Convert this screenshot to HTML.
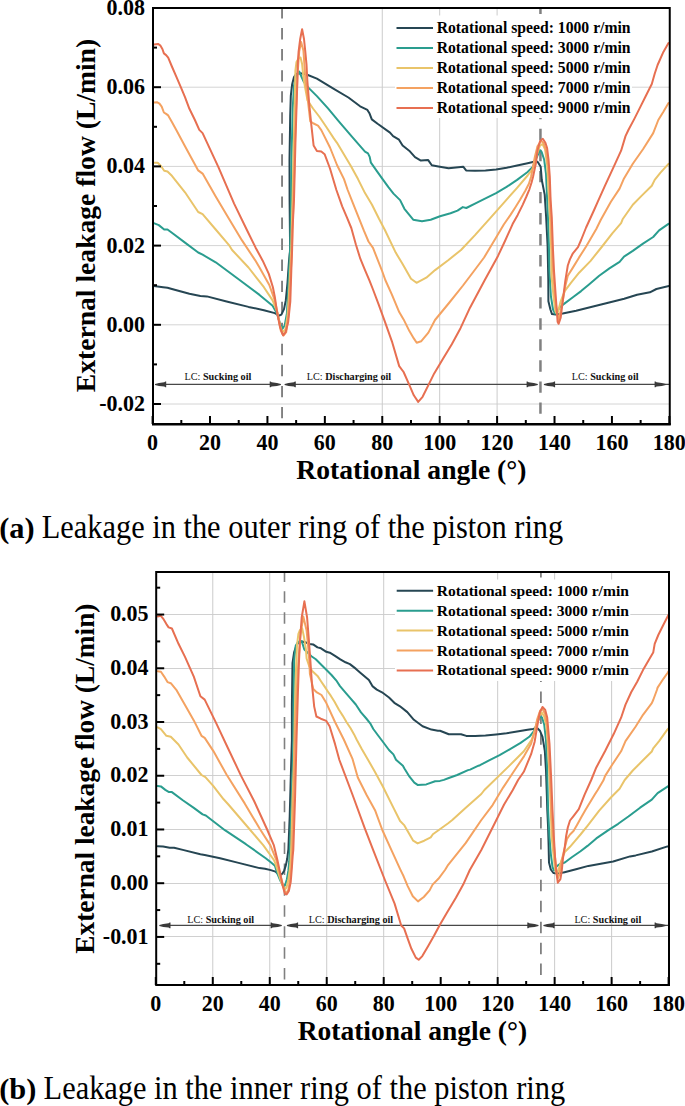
<!DOCTYPE html>
<html><head><meta charset="utf-8"><style>
html,body{margin:0;padding:0;background:#fff;width:685px;height:1106px;overflow:hidden}
svg{display:block}
</style></head><body>
<svg width="685" height="1106" viewBox="0 0 685 1106">
<rect width="685" height="1106" fill="#fff"/>
<line x1="153" y1="87.20" x2="669.75" y2="87.20" stroke="#d4d4d4" stroke-width="1"/>
<line x1="153" y1="166.40" x2="669.75" y2="166.40" stroke="#d4d4d4" stroke-width="1"/>
<line x1="153" y1="245.60" x2="669.75" y2="245.60" stroke="#d4d4d4" stroke-width="1"/>
<line x1="153" y1="324.80" x2="669.75" y2="324.80" stroke="#d4d4d4" stroke-width="1"/>
<line x1="153" y1="404.00" x2="669.75" y2="404.00" stroke="#d4d4d4" stroke-width="1"/>
<line x1="382.27" y1="8" x2="382.27" y2="424" stroke="#cbcbcb" stroke-width="1"/>
<line x1="439.68" y1="8" x2="439.68" y2="424" stroke="#cbcbcb" stroke-width="1"/>
<line x1="497.10" y1="8" x2="497.10" y2="424" stroke="#cbcbcb" stroke-width="1"/>
<line x1="282.05" y1="7" x2="282.05" y2="424" stroke="#808080" stroke-width="1.9" stroke-dasharray="11.4 9.65" stroke-dashoffset="0"/>
<line x1="540.45" y1="7" x2="540.45" y2="424" stroke="#808080" stroke-width="2.5" stroke-dasharray="11.4 9.65" stroke-dashoffset="4.5"/>
<rect x="395" y="15.5" width="237" height="102.5" fill="#fff"/>
<line x1="158.0" y1="384.4" x2="277.9" y2="384.4" stroke="#484848" stroke-width="1.2"/>
<polygon points="155.00,383.90 159.00,382.90 164.30,382.30 165.30,381.50 166.20,381.50 166.20,387.30 165.30,387.30 164.30,386.50 159.00,385.90 155.00,384.90" fill="#3a3a3a"/>
<polygon points="280.90,383.90 276.90,382.90 271.60,382.30 270.60,381.50 269.70,381.50 269.70,387.30 270.60,387.30 271.60,386.50 276.90,385.90 280.90,384.90" fill="#3a3a3a"/>
<line x1="287.6" y1="384.4" x2="534.8" y2="384.4" stroke="#484848" stroke-width="1.2"/>
<polygon points="284.60,383.90 288.60,382.90 293.90,382.30 294.90,381.50 295.80,381.50 295.80,387.30 294.90,387.30 293.90,386.50 288.60,385.90 284.60,384.90" fill="#3a3a3a"/>
<polygon points="537.80,383.90 533.80,382.90 528.50,382.30 527.50,381.50 526.60,381.50 526.60,387.30 527.50,387.30 528.50,386.50 533.80,385.90 537.80,384.90" fill="#3a3a3a"/>
<line x1="546.9" y1="384.4" x2="669.75" y2="384.4" stroke="#484848" stroke-width="1.2"/>
<polygon points="543.90,383.90 547.90,382.90 553.20,382.30 554.20,381.50 555.10,381.50 555.10,387.30 554.20,387.30 553.20,386.50 547.90,385.90 543.90,384.90" fill="#3a3a3a"/>
<polygon points="665.80,383.90 661.80,382.90 656.50,382.30 655.50,381.50 654.60,381.50 654.60,387.30 655.50,387.30 656.50,386.50 661.80,385.90 665.80,384.90" fill="#3a3a3a"/>
<text x="184.5" y="379.8" font-family="Liberation Serif" font-weight="bold" font-size="10.2" fill="#111"><tspan font-weight="normal">LC:</tspan> Sucking oil</text>
<text x="306.8" y="379.8" font-family="Liberation Serif" font-weight="bold" font-size="10.2" fill="#111"><tspan font-weight="normal">LC:</tspan> Discharging oil</text>
<text x="571.8" y="379.8" font-family="Liberation Serif" font-weight="bold" font-size="10.2" fill="#111"><tspan font-weight="normal">LC:</tspan> Sucking oil</text>
<clipPath id="clipA"><rect x="153" y="8" width="516.75" height="416"/></clipPath>
<g clip-path="url(#clipA)" fill="none" stroke-width="2" stroke-linejoin="round" stroke-linecap="round">
<polyline points="153.9,286.1 163.1,287.2 167.5,287.7 171.9,289.0 189.4,293.8 200.4,296.0 206.9,296.4 226.6,301.5 248.5,306.9 263.9,310.2 274.8,313.1 279.2,315.7 281.4,314.6 284.0,309.1 285.8,300.4 287.5,282.8 289.0,261.0 290.1,250.0 289.6,200.0 289.5,160.0 290.2,116.2 290.8,95.9 292.1,84.6 294.0,77.0 295.9,74.4 298.4,73.2 302.2,73.6 306.0,74.2 316.9,78.6 333.8,88.8 348.4,97.5 360.1,106.3 367.4,109.9 369.6,113.6 371.8,119.4 377.6,123.8 390.0,132.6 393.1,136.1 399.0,139.7 402.6,145.5 409.2,150.7 415.0,157.2 420.9,160.6 428.2,160.1 431.8,165.3 438.4,166.4 448.6,168.2 455.9,167.4 463.2,166.7 466.1,170.4 475.0,170.8 485.5,170.6 496.1,169.4 506.6,167.7 517.1,165.6 527.6,163.3 532.9,162.1 535.5,160.7 538.1,162.4 540.7,166.8 541.8,180.0 544.7,194.6 546.1,216.5 547.6,245.7 548.3,280.0 548.4,301.3 550.4,309.5 552.0,314.1 555.5,314.6 562.7,313.6 576.1,310.7 592.1,306.7 608.2,302.7 624.2,298.7 637.1,294.7 649.9,292.3 656.4,289.0 670.0,285.8" stroke="#264653"/>
<polyline points="154.4,223.4 158.8,225.1 164.2,229.5 167.5,229.5 171.9,232.8 185.0,242.6 198.2,252.5 202.6,254.7 215.7,262.3 237.6,278.5 259.5,294.9 272.6,305.8 277.0,313.5 280.3,324.4 282.5,328.8 284.7,325.5 286.9,313.5 288.0,293.8 289.0,271.9 290.1,250.0 291.0,200.0 291.5,159.2 292.7,108.6 294.0,85.8 295.9,75.7 299.2,71.5 301.6,77.0 303.8,81.9 308.1,87.4 316.9,96.1 327.8,108.2 338.8,121.3 351.9,136.6 360.4,146.4 365.0,151.6 368.0,153.4 369.7,156.9 370.9,162.7 376.7,170.9 382.6,179.1 388.4,187.2 393.5,193.6 400.1,200.1 404.4,208.8 413.2,219.7 422.0,221.2 430.7,219.7 440.0,216.2 450.5,213.2 457.5,210.6 462.8,207.1 466.3,208.0 475.0,203.6 485.5,198.3 496.1,193.1 506.6,186.9 517.1,179.9 527.6,172.0 532.9,166.8 536.4,158.0 539.9,150.1 541.6,151.9 544.2,159.8 546.0,173.8 547.2,200.1 548.3,226.4 549.0,250.0 549.4,270.7 550.9,296.2 553.0,309.5 555.0,313.6 557.6,310.5 560.7,306.4 564.7,303.4 572.9,297.2 581.1,291.1 589.0,284.5 599.2,275.7 609.4,268.4 619.6,261.8 624.0,256.7 632.8,250.9 643.0,243.6 653.2,237.0 659.1,230.4 668.5,223.9" stroke="#2a9d8f"/>
<polyline points="154.4,162.7 157.7,162.7 160.9,166.0 164.2,170.8 167.5,171.5 171.9,175.8 185.0,192.3 198.2,212.0 202.6,214.2 215.7,229.5 228.8,244.8 232.1,250.0 248.5,267.5 263.9,287.2 272.6,300.4 277.0,311.3 280.3,326.6 282.5,332.1 285.3,329.9 287.5,315.7 289.0,293.8 290.1,271.9 291.2,250.0 292.5,200.0 293.4,159.2 294.6,108.6 295.4,70.6 296.5,62.0 298.5,58.5 300.5,57.5 302.1,64.0 303.4,77.0 304.9,86.3 307.5,100.4 313.0,108.5 319.2,116.5 326.0,126.5 333.8,138.4 337.0,142.8 344.0,154.5 351.0,166.2 358.0,179.1 365.0,193.1 372.0,204.7 379.0,218.8 384.9,230.0 395.7,252.6 402.3,263.5 411.0,278.8 416.5,282.8 426.3,277.7 435.1,270.1 448.2,260.2 461.0,250.0 475.0,235.1 489.1,219.3 503.1,203.6 517.1,187.8 527.6,175.5 532.9,168.5 536.4,156.3 539.9,145.8 542.5,144.0 545.1,149.3 547.2,165.0 548.6,191.3 550.0,217.6 551.2,250.0 551.5,275.8 553.5,296.2 555.5,311.5 557.1,314.6 558.6,309.5 560.7,301.3 564.7,291.1 570.9,282.9 579.1,272.7 590.4,261.1 602.1,246.5 612.3,233.4 621.1,223.1 622.6,219.3 632.8,204.7 641.5,195.9 651.8,185.7 654.7,179.9 660.5,172.6 668.5,163.8" stroke="#e9c46a"/>
<polyline points="154.1,102.6 157.3,102.3 159.5,103.7 161.7,106.6 163.9,112.5 166.1,113.9 168.2,115.4 171.9,122.0 176.3,130.0 185.0,146.3 198.2,170.4 202.6,173.6 215.7,196.6 228.8,218.5 242.0,240.4 255.1,260.1 259.5,267.5 269.3,285.0 274.8,300.4 278.1,315.7 280.9,331.0 283.6,335.4 286.2,332.1 288.4,315.7 289.7,293.8 290.8,271.9 291.9,250.0 293.5,200.0 294.5,160.0 296.0,110.0 297.5,75.0 299.2,51.6 301.1,42.0 303.4,50.4 305.3,77.0 307.0,92.8 310.3,121.3 313.6,123.5 318.0,125.7 321.3,130.1 330.0,147.5 337.0,165.0 344.0,179.1 347.7,190.0 353.1,203.6 358.5,217.1 363.9,230.7 368.5,241.5 373.0,247.9 382.3,271.5 385.3,280.0 391.9,294.6 399.2,312.1 403.6,319.4 409.4,331.1 413.8,338.4 416.7,342.8 421.1,341.3 428.4,332.6 435.0,320.0 449.0,303.0 463.0,285.5 473.6,271.5 484.1,257.5 494.6,240.0 503.8,224.5 510.5,214.9 515.1,207.7 520.2,199.5 525.3,190.8 528.9,183.7 531.0,177.0 534.9,156.8 537.5,146.3 541.0,141.0 543.6,142.8 545.8,149.8 548.0,163.8 549.3,181.3 550.2,200.0 550.9,217.6 552.1,250.0 553.0,270.7 555.0,296.2 557.1,313.6 558.6,319.7 560.1,313.6 562.7,301.3 565.3,286.0 567.8,275.8 572.9,267.6 579.1,257.4 586.1,246.5 596.3,229.0 600.7,220.0 610.9,201.8 619.6,188.6 624.0,178.4 632.8,163.8 643.0,149.2 653.2,133.1 658.3,120.0 663.4,111.8 668.5,103.0" stroke="#f4a261"/>
<polyline points="154.1,44.6 158.0,43.9 160.2,45.3 162.4,49.0 163.9,53.4 166.1,55.1 168.2,57.7 171.9,66.5 176.3,76.7 180.7,86.9 185.0,97.2 189.4,108.8 194.9,120.0 199.3,129.9 202.6,133.1 218.3,166.8 234.1,203.6 246.9,230.0 255.5,247.4 262.7,260.7 268.8,273.9 272.9,287.2 274.9,297.4 277.0,311.8 280.0,327.1 283.1,335.3 285.6,332.2 288.2,322.0 290.3,301.6 291.3,270.9 292.1,250.0 292.5,230.0 294.0,200.0 295.5,140.0 297.3,83.3 297.7,64.3 298.6,51.6 300.2,39.0 302.1,29.2 304.0,39.0 305.3,51.6 306.5,64.3 307.3,80.0 309.2,103.8 311.4,125.7 313.6,145.4 316.9,150.9 321.3,151.5 324.6,154.2 330.0,168.5 336.4,190.0 342.2,206.3 346.8,217.1 351.3,228.0 355.8,244.2 360.3,258.7 364.8,269.6 369.4,280.4 373.0,289.5 378.8,304.8 384.6,320.9 391.9,341.3 399.2,366.1 403.6,372.0 409.4,385.1 413.8,395.3 418.2,401.9 422.6,396.8 428.4,385.1 434.2,373.4 443.0,358.8 451.8,344.2 460.5,328.2 470.0,307.7 484.8,280.0 498.0,255.9 505.0,241.0 512.6,224.1 517.7,214.9 522.8,204.6 526.4,196.5 529.4,189.3 531.5,182.7 533.0,177.0 535.8,163.8 537.5,150.6 540.1,141.0 542.8,138.8 545.4,142.8 547.1,148.0 548.5,159.4 549.8,176.9 550.6,200.0 551.8,217.6 553.0,250.0 554.0,270.7 556.1,301.3 557.6,321.7 558.6,323.8 560.7,317.7 562.7,301.3 565.3,280.9 567.8,265.5 569.9,259.4 572.9,253.3 578.0,247.2 581.1,240.0 586.1,227.5 594.1,210.0 597.7,201.8 605.0,185.7 613.8,166.7 621.1,150.7 625.5,136.1 628.4,130.0 634.2,119.1 640.1,107.4 645.9,95.7 651.8,84.0 654.7,73.8 657.6,65.0 663.4,51.9 668.5,43.1" stroke="#e76f51"/>
</g>
<line x1="396.5" y1="27.9" x2="433" y2="27.9" stroke="#264653" stroke-width="2"/>
<text x="436.7" y="32.9" font-family="Liberation Serif" font-weight="bold" font-size="15.7">Rotational speed: 1000 r/min</text>
<line x1="396.5" y1="47.9" x2="433" y2="47.9" stroke="#2a9d8f" stroke-width="2"/>
<text x="436.7" y="52.9" font-family="Liberation Serif" font-weight="bold" font-size="15.7">Rotational speed: 3000 r/min</text>
<line x1="396.5" y1="67.9" x2="433" y2="67.9" stroke="#e9c46a" stroke-width="2"/>
<text x="436.7" y="72.9" font-family="Liberation Serif" font-weight="bold" font-size="15.7">Rotational speed: 5000 r/min</text>
<line x1="396.5" y1="87.9" x2="433" y2="87.9" stroke="#f4a261" stroke-width="2"/>
<text x="436.7" y="92.9" font-family="Liberation Serif" font-weight="bold" font-size="15.7">Rotational speed: 7000 r/min</text>
<line x1="396.5" y1="107.9" x2="433" y2="107.9" stroke="#e76f51" stroke-width="2"/>
<text x="436.7" y="112.9" font-family="Liberation Serif" font-weight="bold" font-size="15.7">Rotational speed: 9000 r/min</text>
<rect x="153" y="8" width="516.75" height="416" fill="none" stroke="#000" stroke-width="2"/>
<line x1="152" y1="424.3" x2="670.75" y2="424.3" stroke="#000" stroke-width="2.6"/>
<line x1="153" y1="8.00" x2="161" y2="8.00" stroke="#000" stroke-width="2"/>
<text transform="translate(145,15.00) scale(1,1.07)" font-family="Liberation Serif" font-weight="bold" font-size="22" text-anchor="end">0.08</text>
<line x1="153" y1="87.20" x2="161" y2="87.20" stroke="#000" stroke-width="2"/>
<text transform="translate(145,94.20) scale(1,1.07)" font-family="Liberation Serif" font-weight="bold" font-size="22" text-anchor="end">0.06</text>
<line x1="153" y1="166.40" x2="161" y2="166.40" stroke="#000" stroke-width="2"/>
<text transform="translate(145,173.40) scale(1,1.07)" font-family="Liberation Serif" font-weight="bold" font-size="22" text-anchor="end">0.04</text>
<line x1="153" y1="245.60" x2="161" y2="245.60" stroke="#000" stroke-width="2"/>
<text transform="translate(145,252.60) scale(1,1.07)" font-family="Liberation Serif" font-weight="bold" font-size="22" text-anchor="end">0.02</text>
<line x1="153" y1="324.80" x2="161" y2="324.80" stroke="#000" stroke-width="2"/>
<text transform="translate(145,331.80) scale(1,1.07)" font-family="Liberation Serif" font-weight="bold" font-size="22" text-anchor="end">0.00</text>
<line x1="153" y1="404.00" x2="161" y2="404.00" stroke="#000" stroke-width="2"/>
<text transform="translate(145,411.00) scale(1,1.07)" font-family="Liberation Serif" font-weight="bold" font-size="22" text-anchor="end">-0.02</text>
<line x1="153" y1="47.60" x2="157" y2="47.60" stroke="#000" stroke-width="2"/>
<line x1="153" y1="126.80" x2="157" y2="126.80" stroke="#000" stroke-width="2"/>
<line x1="153" y1="206.00" x2="157" y2="206.00" stroke="#000" stroke-width="2"/>
<line x1="153" y1="285.20" x2="157" y2="285.20" stroke="#000" stroke-width="2"/>
<line x1="153" y1="364.40" x2="157" y2="364.40" stroke="#000" stroke-width="2"/>
<line x1="152.60" y1="424" x2="152.60" y2="416" stroke="#000" stroke-width="2"/>
<text transform="translate(152.60,450) scale(1,1.07)" font-family="Liberation Serif" font-weight="bold" font-size="22" text-anchor="middle">0</text>
<line x1="210.02" y1="424" x2="210.02" y2="416" stroke="#000" stroke-width="2"/>
<text transform="translate(210.02,450) scale(1,1.07)" font-family="Liberation Serif" font-weight="bold" font-size="22" text-anchor="middle">20</text>
<line x1="267.43" y1="424" x2="267.43" y2="416" stroke="#000" stroke-width="2"/>
<text transform="translate(267.43,450) scale(1,1.07)" font-family="Liberation Serif" font-weight="bold" font-size="22" text-anchor="middle">40</text>
<line x1="324.85" y1="424" x2="324.85" y2="416" stroke="#000" stroke-width="2"/>
<text transform="translate(324.85,450) scale(1,1.07)" font-family="Liberation Serif" font-weight="bold" font-size="22" text-anchor="middle">60</text>
<line x1="382.27" y1="424" x2="382.27" y2="416" stroke="#000" stroke-width="2"/>
<text transform="translate(382.27,450) scale(1,1.07)" font-family="Liberation Serif" font-weight="bold" font-size="22" text-anchor="middle">80</text>
<line x1="439.68" y1="424" x2="439.68" y2="416" stroke="#000" stroke-width="2"/>
<text transform="translate(439.68,450) scale(1,1.07)" font-family="Liberation Serif" font-weight="bold" font-size="22" text-anchor="middle">100</text>
<line x1="497.10" y1="424" x2="497.10" y2="416" stroke="#000" stroke-width="2"/>
<text transform="translate(497.10,450) scale(1,1.07)" font-family="Liberation Serif" font-weight="bold" font-size="22" text-anchor="middle">120</text>
<line x1="554.52" y1="424" x2="554.52" y2="416" stroke="#000" stroke-width="2"/>
<text transform="translate(554.52,450) scale(1,1.07)" font-family="Liberation Serif" font-weight="bold" font-size="22" text-anchor="middle">140</text>
<line x1="611.93" y1="424" x2="611.93" y2="416" stroke="#000" stroke-width="2"/>
<text transform="translate(611.93,450) scale(1,1.07)" font-family="Liberation Serif" font-weight="bold" font-size="22" text-anchor="middle">160</text>
<line x1="669.35" y1="424" x2="669.35" y2="416" stroke="#000" stroke-width="2"/>
<text transform="translate(669.35,450) scale(1,1.07)" font-family="Liberation Serif" font-weight="bold" font-size="22" text-anchor="middle">180</text>
<line x1="181.31" y1="424" x2="181.31" y2="420" stroke="#000" stroke-width="2"/>
<line x1="238.72" y1="424" x2="238.72" y2="420" stroke="#000" stroke-width="2"/>
<line x1="296.14" y1="424" x2="296.14" y2="420" stroke="#000" stroke-width="2"/>
<line x1="353.56" y1="424" x2="353.56" y2="420" stroke="#000" stroke-width="2"/>
<line x1="410.98" y1="424" x2="410.98" y2="420" stroke="#000" stroke-width="2"/>
<line x1="468.39" y1="424" x2="468.39" y2="420" stroke="#000" stroke-width="2"/>
<line x1="525.81" y1="424" x2="525.81" y2="420" stroke="#000" stroke-width="2"/>
<line x1="583.23" y1="424" x2="583.23" y2="420" stroke="#000" stroke-width="2"/>
<line x1="640.64" y1="424" x2="640.64" y2="420" stroke="#000" stroke-width="2"/>
<text x="411.4" y="479" font-family="Liberation Serif" font-weight="bold" font-size="27.6" text-anchor="middle">Rotational angle (°)</text>
<text transform="translate(95,215.5) rotate(-90)" font-family="Liberation Serif" font-weight="bold" font-size="27.6" text-anchor="middle">External leakage flow (L/min)</text>
<line x1="156.2" y1="614.50" x2="669" y2="614.50" stroke="#d0d0d0" stroke-width="1"/>
<line x1="156.2" y1="668.50" x2="669" y2="668.50" stroke="#d0d0d0" stroke-width="1"/>
<line x1="156.2" y1="722.50" x2="669" y2="722.50" stroke="#d0d0d0" stroke-width="1"/>
<line x1="156.2" y1="775.50" x2="669" y2="775.50" stroke="#d0d0d0" stroke-width="1"/>
<line x1="156.2" y1="829.50" x2="669" y2="829.50" stroke="#d0d0d0" stroke-width="1"/>
<line x1="156.2" y1="883.50" x2="669" y2="883.50" stroke="#d0d0d0" stroke-width="1"/>
<line x1="156.2" y1="936.50" x2="669" y2="936.50" stroke="#d0d0d0" stroke-width="1"/>
<line x1="212.78" y1="572" x2="212.78" y2="985" stroke="#cbcbcb" stroke-width="1"/>
<line x1="269.76" y1="572" x2="269.76" y2="985" stroke="#cbcbcb" stroke-width="1"/>
<line x1="326.73" y1="572" x2="326.73" y2="985" stroke="#cbcbcb" stroke-width="1"/>
<line x1="383.71" y1="572" x2="383.71" y2="985" stroke="#cbcbcb" stroke-width="1"/>
<line x1="497.67" y1="572" x2="497.67" y2="985" stroke="#cbcbcb" stroke-width="1"/>
<line x1="554.64" y1="572" x2="554.64" y2="985" stroke="#cbcbcb" stroke-width="1"/>
<line x1="611.62" y1="572" x2="611.62" y2="985" stroke="#cbcbcb" stroke-width="1"/>
<line x1="284.5" y1="571" x2="284.5" y2="985" stroke="#808080" stroke-width="1.6" stroke-dasharray="11.5 9.43" stroke-dashoffset="0.6"/>
<line x1="540.9" y1="571" x2="540.9" y2="985" stroke="#808080" stroke-width="1.8" stroke-dasharray="11.5 9.43" stroke-dashoffset="5.1"/>
<rect x="395" y="579.5" width="235.29999999999995" height="101.5" fill="#fff"/>
<line x1="162.3" y1="925.4" x2="278.8" y2="925.4" stroke="#484848" stroke-width="1.2"/>
<polygon points="159.30,924.90 163.30,923.90 168.60,923.30 169.60,922.50 170.50,922.50 170.50,928.30 169.60,928.30 168.60,927.50 163.30,926.90 159.30,925.90" fill="#3a3a3a"/>
<polygon points="281.80,924.90 277.80,923.90 272.50,923.30 271.50,922.50 270.60,922.50 270.60,928.30 271.50,928.30 272.50,927.50 277.80,926.90 281.80,925.90" fill="#3a3a3a"/>
<line x1="289.9" y1="925.4" x2="535.5" y2="925.4" stroke="#484848" stroke-width="1.2"/>
<polygon points="286.90,924.90 290.90,923.90 296.20,923.30 297.20,922.50 298.10,922.50 298.10,928.30 297.20,928.30 296.20,927.50 290.90,926.90 286.90,925.90" fill="#3a3a3a"/>
<polygon points="538.50,924.90 534.50,923.90 529.20,923.30 528.20,922.50 527.30,922.50 527.30,928.30 528.20,928.30 529.20,927.50 534.50,926.90 538.50,925.90" fill="#3a3a3a"/>
<line x1="546.4" y1="925.4" x2="669" y2="925.4" stroke="#484848" stroke-width="1.2"/>
<polygon points="543.40,924.90 547.40,923.90 552.70,923.30 553.70,922.50 554.60,922.50 554.60,928.30 553.70,928.30 552.70,927.50 547.40,926.90 543.40,925.90" fill="#3a3a3a"/>
<polygon points="665.80,924.90 661.80,923.90 656.50,923.30 655.50,922.50 654.60,922.50 654.60,928.30 655.50,928.30 656.50,927.50 661.80,926.90 665.80,925.90" fill="#3a3a3a"/>
<text x="187.3" y="922.8" font-family="Liberation Serif" font-weight="bold" font-size="10.2" fill="#111"><tspan font-weight="normal">LC:</tspan> Sucking oil</text>
<text x="308.8" y="922.8" font-family="Liberation Serif" font-weight="bold" font-size="10.2" fill="#111"><tspan font-weight="normal">LC:</tspan> Discharging oil</text>
<text x="574.4" y="922.8" font-family="Liberation Serif" font-weight="bold" font-size="10.2" fill="#111"><tspan font-weight="normal">LC:</tspan> Sucking oil</text>
<clipPath id="clipB"><rect x="156.2" y="572" width="512.8" height="413"/></clipPath>
<g clip-path="url(#clipB)" fill="none" stroke-width="2" stroke-linejoin="round" stroke-linecap="round">
<polyline points="157.7,846.2 163.1,846.6 169.7,847.7 174.1,847.7 182.8,849.9 200.4,854.3 204.7,855.0 220.1,858.2 237.6,862.6 259.5,868.1 265.0,868.7 270.8,870.1 275.5,871.6 277.8,873.9 281.4,874.5 282.5,873.4 284.3,870.4 286.0,864.6 287.2,858.8 288.4,849.0 289.7,816.6 290.6,783.8 291.9,740.0 291.9,704.3 292.5,663.1 294.1,652.3 296.3,645.8 298.4,642.5 302.0,641.5 306.0,642.5 309.6,643.9 313.1,644.4 317.5,647.4 321.0,648.3 326.3,651.8 329.8,652.7 335.0,655.8 340.3,659.3 345.5,662.3 349.9,664.1 356.0,668.9 360.0,672.4 368.9,680.0 372.4,686.1 376.8,689.6 382.0,692.3 389.0,697.5 394.3,702.8 400.0,706.3 407.3,712.1 413.9,719.8 422.6,726.3 431.4,729.6 437.9,730.7 440.0,730.7 448.8,734.2 461.0,734.2 466.3,735.9 475.0,735.9 485.5,735.6 496.1,734.5 506.6,733.3 517.1,731.5 527.6,729.8 532.9,728.9 537.2,728.0 539.9,730.7 542.5,736.8 544.8,750.8 546.0,770.1 546.9,796.4 547.3,810.0 548.1,827.5 548.6,845.0 549.0,862.5 550.8,869.5 553.4,873.0 557.8,873.5 563.0,872.6 563.6,872.5 576.0,869.2 588.4,865.9 613.2,861.5 630.0,856.4 635.7,855.4 651.8,851.5 667.5,846.4 670.0,846.0" stroke="#264653"/>
<polyline points="157.7,786.0 160.9,786.4 165.3,789.9 168.6,791.9 171.9,792.1 182.8,800.2 193.8,807.9 202.6,814.4 205.8,815.5 224.9,830.2 245.9,844.2 265.7,858.2 270.8,862.3 274.9,865.8 277.3,873.4 280.2,880.4 283.7,886.2 285.1,885.0 286.9,879.2 288.4,870.4 289.2,861.7 289.8,850.0 290.6,827.6 291.9,794.7 292.8,761.9 293.4,740.0 293.6,704.3 294.1,661.0 295.7,645.8 298.0,642.0 300.6,640.9 301.8,641.5 304.4,649.6 311.4,656.2 315.8,659.3 321.0,664.5 326.3,669.8 331.5,675.0 336.8,681.2 340.0,686.1 345.3,692.3 350.5,698.4 355.8,704.5 361.0,712.4 366.3,718.5 370.2,723.3 373.3,729.0 378.5,736.0 383.8,743.0 389.0,750.0 393.4,754.4 396.0,759.7 402.9,765.8 404.4,768.5 409.5,776.7 414.3,782.7 417.6,784.9 426.3,784.4 435.1,781.2 440.0,780.9 443.9,779.9 448.8,778.0 457.2,775.0 468.0,770.1 470.1,769.6 478.5,765.7 480.0,765.2 489.1,760.4 499.6,755.2 510.1,749.1 520.6,742.9 529.3,736.8 533.7,731.5 537.2,722.8 539.9,716.6 542.0,717.5 544.2,724.5 546.0,740.3 547.2,770.1 548.1,810.0 549.4,836.3 550.8,853.8 552.5,866.9 553.8,870.4 556.0,866.9 559.5,864.3 564.8,862.5 571.8,857.3 580.5,851.2 587.5,845.9 596.3,838.4 608.0,830.4 618.2,823.8 628.4,816.5 640.1,807.7 651.8,799.7 657.6,793.1 667.5,786.6 670.0,785.0" stroke="#2a9d8f"/>
<polyline points="157.7,727.4 160.9,729.2 166.4,735.8 170.8,736.8 178.5,744.5 187.2,757.5 201.5,775.0 205.4,777.2 213.4,786.1 223.6,799.3 228.4,804.5 249.4,829.0 263.4,845.4 273.9,860.0 275.5,864.0 279.0,875.0 282.0,884.5 284.9,889.5 286.6,887.4 288.4,879.2 290.1,867.5 291.1,852.0 292.5,800.0 294.0,760.0 295.0,704.0 296.0,670.0 297.0,645.0 298.4,633.8 300.0,630.0 302.2,628.4 304.0,637.0 306.0,650.1 306.6,658.5 309.3,666.4 312.2,671.0 317.5,675.9 321.0,681.2 324.5,686.4 328.0,691.7 330.9,695.9 334.4,701.6 338.8,709.5 342.7,715.6 346.6,722.2 350.6,728.3 354.1,734.4 356.6,739.5 361.9,749.2 368.0,759.7 375.0,772.0 382.6,786.0 393.5,807.9 400.1,821.0 404.4,825.4 413.2,840.7 417.6,843.4 424.2,840.7 430.7,837.4 432.9,834.2 448.2,823.2 452.3,820.0 465.5,808.0 481.3,794.0 484.4,790.0 509.2,765.9 523.8,751.3 531.8,739.6 535.5,728.0 539.0,716.6 541.6,712.3 544.2,716.6 546.5,726.3 548.3,752.6 550.0,787.6 550.8,810.0 551.6,836.3 553.4,853.8 555.1,869.5 556.9,873.9 558.6,869.5 561.3,860.8 564.8,852.0 570.0,846.8 575.3,840.6 580.5,834.5 587.5,825.8 599.2,810.7 610.9,797.5 619.6,788.8 624.7,780.0 632.8,770.5 643.0,760.3 651.8,751.5 653.2,748.4 659.1,741.1 667.5,729.4 670.0,727.0" stroke="#e9c46a"/>
<polyline points="157.7,671.2 160.9,671.8 164.2,676.6 167.5,682.1 170.8,683.2 176.3,689.8 185.0,705.1 193.8,720.4 201.5,735.8 204.7,737.9 213.4,751.1 226.5,774.5 244.7,803.4 259.9,829.0 270.4,845.4 276.3,860.0 280.0,874.0 282.5,883.0 284.3,890.5 286.0,893.2 288.4,889.7 290.1,879.2 291.3,867.5 292.2,850.0 294.0,780.0 295.5,720.0 296.8,690.0 298.5,660.0 300.5,635.0 303.3,616.5 306.6,630.6 308.0,645.0 309.3,661.0 309.9,673.8 313.3,689.1 316.9,692.4 321.5,695.0 325.9,702.2 335.0,722.0 343.8,739.5 352.6,759.2 357.8,777.5 366.6,795.0 375.3,810.8 382.3,830.0 391.1,849.3 399.9,868.6 402.3,873.6 403.4,875.8 407.7,886.1 412.8,896.3 418.0,901.4 423.8,897.0 429.6,890.4 432.6,884.6 438.4,878.8 445.0,870.0 448.2,864.8 465.8,842.9 481.0,820.5 492.6,805.1 503.1,787.6 513.6,771.8 524.1,756.1 531.1,743.8 534.6,731.5 537.2,719.3 540.2,710.5 542.5,708.8 545.1,714.0 547.2,726.3 549.0,752.6 550.7,787.6 551.2,810.0 553.0,836.3 554.7,853.8 556.5,871.3 557.8,878.3 559.5,873.9 561.7,860.8 564.3,849.4 567.0,838.9 570.0,834.5 573.5,831.0 577.0,824.9 581.4,817.0 585.7,809.6 594.8,794.6 597.7,790.0 603.6,780.0 605.0,776.1 612.3,764.5 621.1,751.3 625.5,741.1 635.7,726.5 643.0,714.8 651.8,703.1 653.2,700.0 656.9,690.0 657.6,687.6 663.4,678.8 667.5,673.0 670.0,669.0" stroke="#f4a261"/>
<polyline points="157.7,616.4 160.9,615.8 163.1,618.6 166.4,624.1 168.6,627.4 171.9,628.5 178.5,643.8 185.0,656.9 193.8,676.6 200.4,696.3 204.7,699.6 216.3,723.4 228.0,748.2 241.1,775.9 254.1,801.0 266.9,829.0 273.9,845.4 277.4,860.0 280.3,873.6 282.5,885.0 284.9,893.8 286.6,894.4 288.9,890.9 290.7,882.1 291.9,867.5 292.7,855.8 293.3,850.0 295.0,800.0 296.5,740.0 297.9,693.5 299.0,661.0 300.1,639.2 301.7,617.5 304.4,601.3 307.1,617.5 308.8,639.2 310.4,661.0 312.0,684.7 314.2,706.6 316.4,716.5 320.8,718.7 326.3,720.9 329.6,726.3 335.0,743.9 339.4,760.0 352.6,795.0 364.8,828.3 373.6,851.1 384.9,880.0 394.6,903.6 401.2,925.5 404.1,928.4 407.7,938.6 411.4,948.8 415.8,957.6 418.7,959.8 422.3,956.1 428.2,945.9 434.0,935.7 439.9,924.7 447.2,912.3 455.9,897.7 463.2,884.6 469.8,870.0 481.3,850.0 493.6,825.5 504.1,804.5 512.8,790.0 518.1,780.0 523.8,771.8 531.1,754.2 534.6,742.0 537.2,726.3 539.9,712.3 542.5,707.0 545.1,709.6 547.2,717.5 549.5,743.8 551.2,778.8 552.5,810.0 553.8,836.3 555.1,858.2 556.5,873.0 557.8,882.7 560.4,879.2 561.7,871.3 563.0,858.2 564.8,846.8 566.1,836.3 567.8,827.5 570.0,820.5 573.5,816.1 578.8,809.2 584.6,794.6 591.2,780.0 596.3,767.4 605.0,751.3 613.8,733.8 621.1,717.7 625.5,704.6 631.3,692.0 637.2,681.8 643.0,670.1 648.8,659.9 653.2,652.6 654.7,643.8 658.3,635.0 663.4,624.8 667.5,616.8 670.0,612.0" stroke="#e76f51"/>
</g>
<line x1="396.7" y1="590.8" x2="433.1" y2="590.8" stroke="#264653" stroke-width="2"/>
<text x="436.7" y="595.8" font-family="Liberation Serif" font-weight="bold" font-size="15.55">Rotational speed: 1000 r/min</text>
<line x1="396.7" y1="610.7" x2="433.1" y2="610.7" stroke="#2a9d8f" stroke-width="2"/>
<text x="436.7" y="615.7" font-family="Liberation Serif" font-weight="bold" font-size="15.55">Rotational speed: 3000 r/min</text>
<line x1="396.7" y1="630.6" x2="433.1" y2="630.6" stroke="#e9c46a" stroke-width="2"/>
<text x="436.7" y="635.6" font-family="Liberation Serif" font-weight="bold" font-size="15.55">Rotational speed: 5000 r/min</text>
<line x1="396.7" y1="650.5" x2="433.1" y2="650.5" stroke="#f4a261" stroke-width="2"/>
<text x="436.7" y="655.5" font-family="Liberation Serif" font-weight="bold" font-size="15.55">Rotational speed: 7000 r/min</text>
<line x1="396.7" y1="670.4" x2="433.1" y2="670.4" stroke="#e76f51" stroke-width="2"/>
<text x="436.7" y="675.4" font-family="Liberation Serif" font-weight="bold" font-size="15.55">Rotational speed: 9000 r/min</text>
<rect x="156.2" y="572" width="512.8" height="413" fill="none" stroke="#000" stroke-width="2"/>
<line x1="156.2" y1="614.55" x2="164.2" y2="614.55" stroke="#000" stroke-width="2"/>
<text transform="translate(148.6,621.15) scale(1,1.07)" font-family="Liberation Serif" font-weight="bold" font-size="22" text-anchor="end">0.05</text>
<line x1="156.2" y1="668.28" x2="164.2" y2="668.28" stroke="#000" stroke-width="2"/>
<text transform="translate(148.6,674.88) scale(1,1.07)" font-family="Liberation Serif" font-weight="bold" font-size="22" text-anchor="end">0.04</text>
<line x1="156.2" y1="722.01" x2="164.2" y2="722.01" stroke="#000" stroke-width="2"/>
<text transform="translate(148.6,728.61) scale(1,1.07)" font-family="Liberation Serif" font-weight="bold" font-size="22" text-anchor="end">0.03</text>
<line x1="156.2" y1="775.74" x2="164.2" y2="775.74" stroke="#000" stroke-width="2"/>
<text transform="translate(148.6,782.34) scale(1,1.07)" font-family="Liberation Serif" font-weight="bold" font-size="22" text-anchor="end">0.02</text>
<line x1="156.2" y1="829.47" x2="164.2" y2="829.47" stroke="#000" stroke-width="2"/>
<text transform="translate(148.6,836.07) scale(1,1.07)" font-family="Liberation Serif" font-weight="bold" font-size="22" text-anchor="end">0.01</text>
<line x1="156.2" y1="883.20" x2="164.2" y2="883.20" stroke="#000" stroke-width="2"/>
<text transform="translate(148.6,889.80) scale(1,1.07)" font-family="Liberation Serif" font-weight="bold" font-size="22" text-anchor="end">0.00</text>
<line x1="156.2" y1="936.93" x2="164.2" y2="936.93" stroke="#000" stroke-width="2"/>
<text transform="translate(148.6,943.53) scale(1,1.07)" font-family="Liberation Serif" font-weight="bold" font-size="22" text-anchor="end">-0.01</text>
<line x1="156.2" y1="587.69" x2="160.2" y2="587.69" stroke="#000" stroke-width="2"/>
<line x1="156.2" y1="641.42" x2="160.2" y2="641.42" stroke="#000" stroke-width="2"/>
<line x1="156.2" y1="695.14" x2="160.2" y2="695.14" stroke="#000" stroke-width="2"/>
<line x1="156.2" y1="748.88" x2="160.2" y2="748.88" stroke="#000" stroke-width="2"/>
<line x1="156.2" y1="802.61" x2="160.2" y2="802.61" stroke="#000" stroke-width="2"/>
<line x1="156.2" y1="856.34" x2="160.2" y2="856.34" stroke="#000" stroke-width="2"/>
<line x1="156.2" y1="910.07" x2="160.2" y2="910.07" stroke="#000" stroke-width="2"/>
<line x1="156.2" y1="963.80" x2="160.2" y2="963.80" stroke="#000" stroke-width="2"/>
<line x1="155.80" y1="985" x2="155.80" y2="977" stroke="#000" stroke-width="2"/>
<text transform="translate(155.80,1010.6) scale(1,1.07)" font-family="Liberation Serif" font-weight="bold" font-size="22" text-anchor="middle">0</text>
<line x1="212.78" y1="985" x2="212.78" y2="977" stroke="#000" stroke-width="2"/>
<text transform="translate(212.78,1010.6) scale(1,1.07)" font-family="Liberation Serif" font-weight="bold" font-size="22" text-anchor="middle">20</text>
<line x1="269.76" y1="985" x2="269.76" y2="977" stroke="#000" stroke-width="2"/>
<text transform="translate(269.76,1010.6) scale(1,1.07)" font-family="Liberation Serif" font-weight="bold" font-size="22" text-anchor="middle">40</text>
<line x1="326.73" y1="985" x2="326.73" y2="977" stroke="#000" stroke-width="2"/>
<text transform="translate(326.73,1010.6) scale(1,1.07)" font-family="Liberation Serif" font-weight="bold" font-size="22" text-anchor="middle">60</text>
<line x1="383.71" y1="985" x2="383.71" y2="977" stroke="#000" stroke-width="2"/>
<text transform="translate(383.71,1010.6) scale(1,1.07)" font-family="Liberation Serif" font-weight="bold" font-size="22" text-anchor="middle">80</text>
<line x1="440.69" y1="985" x2="440.69" y2="977" stroke="#000" stroke-width="2"/>
<text transform="translate(440.69,1010.6) scale(1,1.07)" font-family="Liberation Serif" font-weight="bold" font-size="22" text-anchor="middle">100</text>
<line x1="497.67" y1="985" x2="497.67" y2="977" stroke="#000" stroke-width="2"/>
<text transform="translate(497.67,1010.6) scale(1,1.07)" font-family="Liberation Serif" font-weight="bold" font-size="22" text-anchor="middle">120</text>
<line x1="554.64" y1="985" x2="554.64" y2="977" stroke="#000" stroke-width="2"/>
<text transform="translate(554.64,1010.6) scale(1,1.07)" font-family="Liberation Serif" font-weight="bold" font-size="22" text-anchor="middle">140</text>
<line x1="611.62" y1="985" x2="611.62" y2="977" stroke="#000" stroke-width="2"/>
<text transform="translate(611.62,1010.6) scale(1,1.07)" font-family="Liberation Serif" font-weight="bold" font-size="22" text-anchor="middle">160</text>
<line x1="668.60" y1="985" x2="668.60" y2="977" stroke="#000" stroke-width="2"/>
<text transform="translate(668.60,1010.6) scale(1,1.07)" font-family="Liberation Serif" font-weight="bold" font-size="22" text-anchor="middle">180</text>
<line x1="184.29" y1="985" x2="184.29" y2="981" stroke="#000" stroke-width="2"/>
<line x1="241.27" y1="985" x2="241.27" y2="981" stroke="#000" stroke-width="2"/>
<line x1="298.24" y1="985" x2="298.24" y2="981" stroke="#000" stroke-width="2"/>
<line x1="355.22" y1="985" x2="355.22" y2="981" stroke="#000" stroke-width="2"/>
<line x1="412.20" y1="985" x2="412.20" y2="981" stroke="#000" stroke-width="2"/>
<line x1="469.18" y1="985" x2="469.18" y2="981" stroke="#000" stroke-width="2"/>
<line x1="526.16" y1="985" x2="526.16" y2="981" stroke="#000" stroke-width="2"/>
<line x1="583.13" y1="985" x2="583.13" y2="981" stroke="#000" stroke-width="2"/>
<line x1="640.11" y1="985" x2="640.11" y2="981" stroke="#000" stroke-width="2"/>
<text x="412.4" y="1040" font-family="Liberation Serif" font-weight="bold" font-size="27.5" text-anchor="middle">Rotational angle (°)</text>
<text transform="translate(94.2,778.6) rotate(-90)" font-family="Liberation Serif" font-weight="bold" font-size="27.35" text-anchor="middle">External leakage flow (L/min)</text>
<text x="-0.8" y="537.5" font-family="Liberation Serif" font-weight="bold" font-size="30.4">(a)</text><text transform="translate(41.75,537.5) scale(1,1.075)" font-family="Liberation Serif" font-size="30.4">Leakage in the outer ring of the piston ring</text>
<text x="-0.8" y="1099" font-family="Liberation Serif" font-weight="bold" font-size="30.4">(b)</text><text transform="translate(43.6,1099) scale(1,1.075)" font-family="Liberation Serif" font-size="30.4">Leakage in the inner ring of the piston ring</text>
</svg>
</body></html>
